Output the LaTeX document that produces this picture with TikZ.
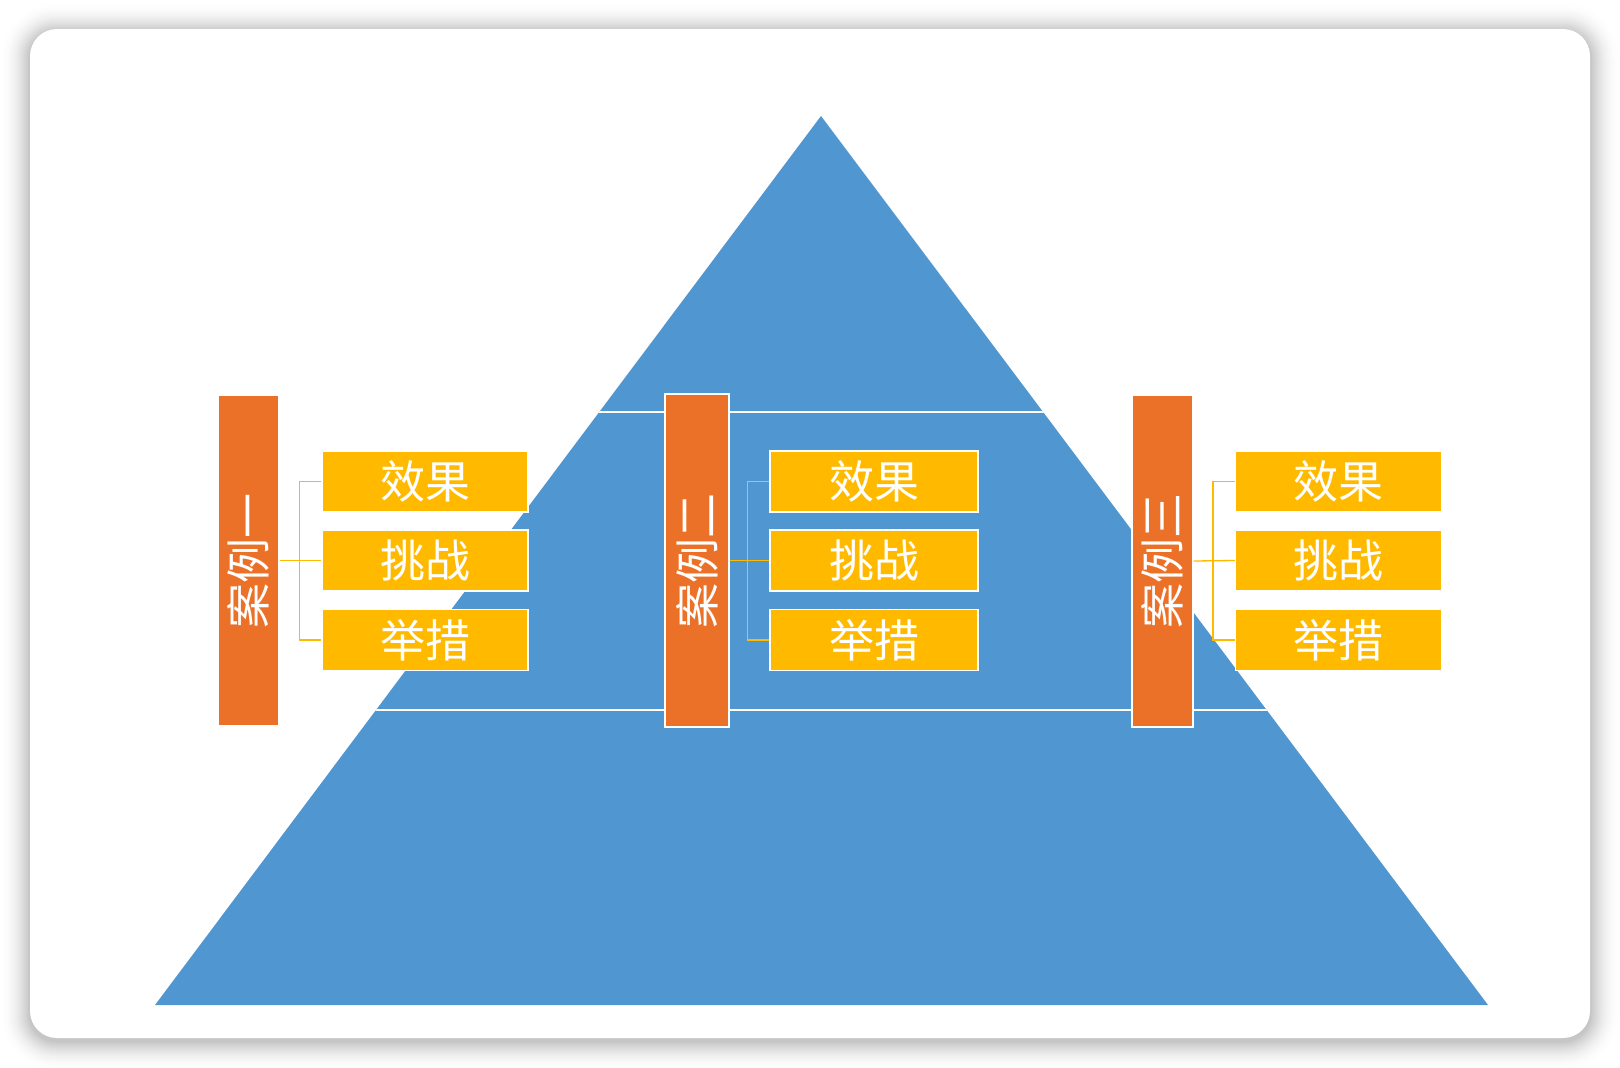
\documentclass[tikz,border=0pt]{standalone}
\usepackage{fontspec}
\newfontfamily\cjk{Noto Sans CJK SC}
\usetikzlibrary{calc}
\definecolor{triblue}{HTML}{5097D1}
\definecolor{caseorange}{HTML}{EC7128}
\definecolor{itemyellow}{HTML}{FFBA00}
\tikzset{
  casebox/.style={fill=caseorange, draw=white, line width=1.2pt, inner sep=0pt,
    minimum width=61pt, minimum height=331pt, text=white,
    font=\cjk\fontsize{45}{45}\selectfont},
  itembox/.style={fill=itemyellow, draw=white, line width=1.2pt, inner sep=0pt,
    minimum width=206pt, minimum height=61pt, text=white,
    font=\cjk\fontsize{45}{45}\selectfont},
  link/.style={draw=itemyellow, line width=1.3pt},
  layerline/.style={draw=white, line width=2pt}
}
\begin{document}
\begin{tikzpicture}[x=1pt,y=-1pt]
\useasboundingbox (0,0) rectangle (1620,1068);
\fill[white] (0,0) rectangle (1620,1068);
% soft shadow of the card (outer = light, inner = dark)
\foreach \i in {30,29,...,1}{
  \pgfmathsetmacro\r{27+\i}
  \pgfmathsetmacro\p{24*(1-\i/31)^2}
  \fill[black!\p, rounded corners=\r pt] (30-\i,32-\i) rectangle (1590+\i,1041+\i);
}
\fill[white, rounded corners=27pt] (30,29) rectangle (1590,1038);
% pyramid
\coordinate (apex) at (821,116);
\coordinate (bl) at (155,1005);
\coordinate (br) at (1488,1005);
\fill[triblue] (apex) -- (br) -- (bl) -- cycle;
\begin{scope}
  \clip (apex) -- (br) -- (bl) -- cycle;
  \draw[layerline] (100,411.5) -- (1550,411.5);
  \draw[layerline] (100,710) -- (1550,710);
\end{scope}
% case 1
\node[casebox] (c1) at (248.5,560.5) {\rotatebox{90}{案例一}};
\node[itembox] (a1) at (425,481.5) {效果};
\node[itembox] (b1) at (425,560.5) {挑战};
\node[itembox] (d1) at (425,640) {举措};
\draw[link] (c1.east) -- (b1.west);
\draw[link] (a1.west) -- ++(-22,0) |- (d1.west);
% case 2
\node[casebox, minimum width=64pt, minimum height=333pt] (c2) at (697,560.5) {\rotatebox{90}{案例二}};
\node[itembox, minimum width=208pt] (a2) at (874,481.5) {效果};
\node[itembox, minimum width=208pt] (b2) at (874,560.5) {挑战};
\node[itembox, minimum width=208pt] (d2) at (874,640) {举措};
\draw[link] (c2.east) -- (b2.west);
\draw[link] (a2.west) -- ++(-22,0) |- (d2.west);
% case 3
\node[casebox, minimum height=332pt] (c3) at (1162.5,561) {\rotatebox{90}{案例三}};
\node[itembox] (a3) at (1338.5,481.5) {效果};
\node[itembox] (b3) at (1338.5,560.5) {挑战};
\node[itembox] (d3) at (1338.5,640) {举措};
\draw[link] (c3.east) -- (b3.west);
\draw[link] (a3.west) -- ++(-22,0) |- (d3.west);
\end{tikzpicture}
\end{document}
